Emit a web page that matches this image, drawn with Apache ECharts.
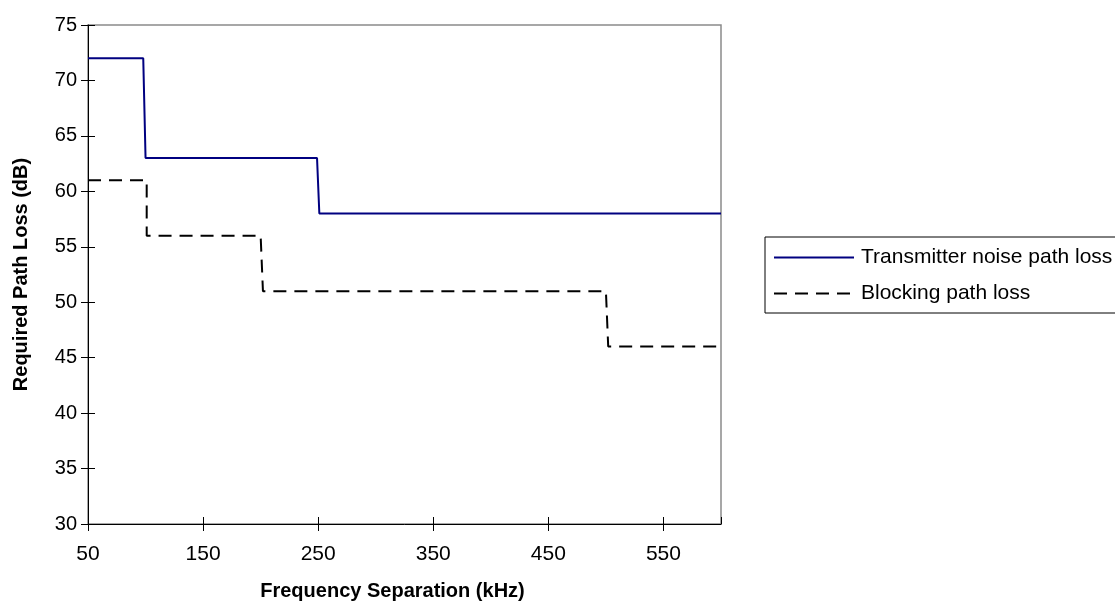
<!DOCTYPE html>
<html>
<head>
<meta charset="utf-8">
<script src="https://cdn.jsdelivr.net/npm/echarts@6/dist/echarts.min.js"></script>
<style>html,body{margin:0;padding:0;background:#fff;}#c{width:1115px;height:608px;}</style>
</head>
<body>
<div id="c"></div>
<script>
// Data
const seriesNames = ['Transmitter noise path loss', 'Blocking path loss'];
const txFreq = [50, 98, 100, 249, 251, 600];
const txLoss = [72, 72, 63, 63, 58, 58];
const blFreq = [50, 101, 101, 200, 202, 500, 502, 600];
const blLoss = [61, 61, 56, 56, 51, 51, 46, 46];
const xMin = 50, xMax = 600, xStep = 100;
const yMin = 30, yMax = 75, yStep = 5;
const xTitle = 'Frequency Separation (kHz)';
const yTitle = 'Required Path Loss (dB)';

const FONT = 'Liberation Sans, Arial, sans-serif';
const chart = echarts.init(document.getElementById('c'));
const pairs = (xs, ys) => xs.map((x, i) => [x, ys[i]]);

const baseX = {
  type: 'value', min: xMin, max: xMax, interval: xStep,
  splitLine: { show: false }
};
const baseY = {
  type: 'value', min: yMin, max: yMax, interval: yStep,
  splitLine: { show: false }
};

chart.setOption({
  animation: false,
  backgroundColor: '#fff',
  grid: {
    left: 88, right: 394, top: 25, bottom: 84,
    show: true, borderColor: '#8a8a8a', borderWidth: 1.5, backgroundColor: 'transparent'
  },
  legend: {
    orient: 'vertical', left: 765, top: 237,
    padding: [10, 6, 9, 8],
    itemWidth: 80, itemHeight: 20, itemGap: 15,
    borderColor: '#000', borderWidth: 1,
    itemStyle: { opacity: 0 },
    textStyle: { fontFamily: FONT, fontSize: 21, color: '#000', padding: [0, 0, 0, 2] },
    data: seriesNames
  },
  xAxis: [
    Object.assign({}, baseX, {
      name: xTitle, nameLocation: 'middle', nameGap: 57,
      nameTextStyle: { fontFamily: FONT, fontSize: 20, fontWeight: 'bold', color: '#000', padding: [0, 24, 0, 0] },
      axisLine: { show: true, lineStyle: { color: '#000', width: 1 } },
      axisTick: { show: true, inside: false, length: 7, lineStyle: { color: '#000' } },
      axisLabel: { show: true, margin: 20, showMaxLabel: false, fontFamily: FONT, fontSize: 21, color: '#000' }
    }),
    Object.assign({}, baseX, {
      position: 'bottom',
      axisLine: { show: false },
      axisTick: { show: true, inside: true, length: 7, lineStyle: { color: '#000' } },
      axisLabel: { show: false }
    })
  ],
  yAxis: [
    Object.assign({}, baseY, {
      name: yTitle, nameLocation: 'middle', nameGap: 57, nameRotate: 90,
      nameTextStyle: { fontFamily: FONT, fontSize: 20, fontWeight: 'bold', color: '#000' },
      axisLine: { show: true, lineStyle: { color: '#000', width: 1 } },
      axisTick: { show: true, inside: false, length: 7, lineStyle: { color: '#000' } },
      axisLabel: { show: true, margin: 11, fontFamily: FONT, fontSize: 20, color: '#000' }
    }),
    Object.assign({}, baseY, {
      position: 'left',
      axisLine: { show: false },
      axisTick: { show: true, inside: true, length: 7, lineStyle: { color: '#000' } },
      axisLabel: { show: false }
    })
  ],
  series: [
    {
      name: seriesNames[0], type: 'line', symbol: 'none',
      xAxisIndex: 0, yAxisIndex: 0,
      data: pairs(txFreq, txLoss),
      lineStyle: { color: '#000080', width: 2 },
      itemStyle: { color: '#000080' }
    },
    {
      name: seriesNames[1], type: 'line', symbol: 'none',
      xAxisIndex: 0, yAxisIndex: 0,
      data: pairs(blFreq, blLoss),
      lineStyle: { color: '#000', width: 2, type: [13, 8] },
      itemStyle: { color: '#000' }
    }
  ]
});
</script>
</body>
</html>
